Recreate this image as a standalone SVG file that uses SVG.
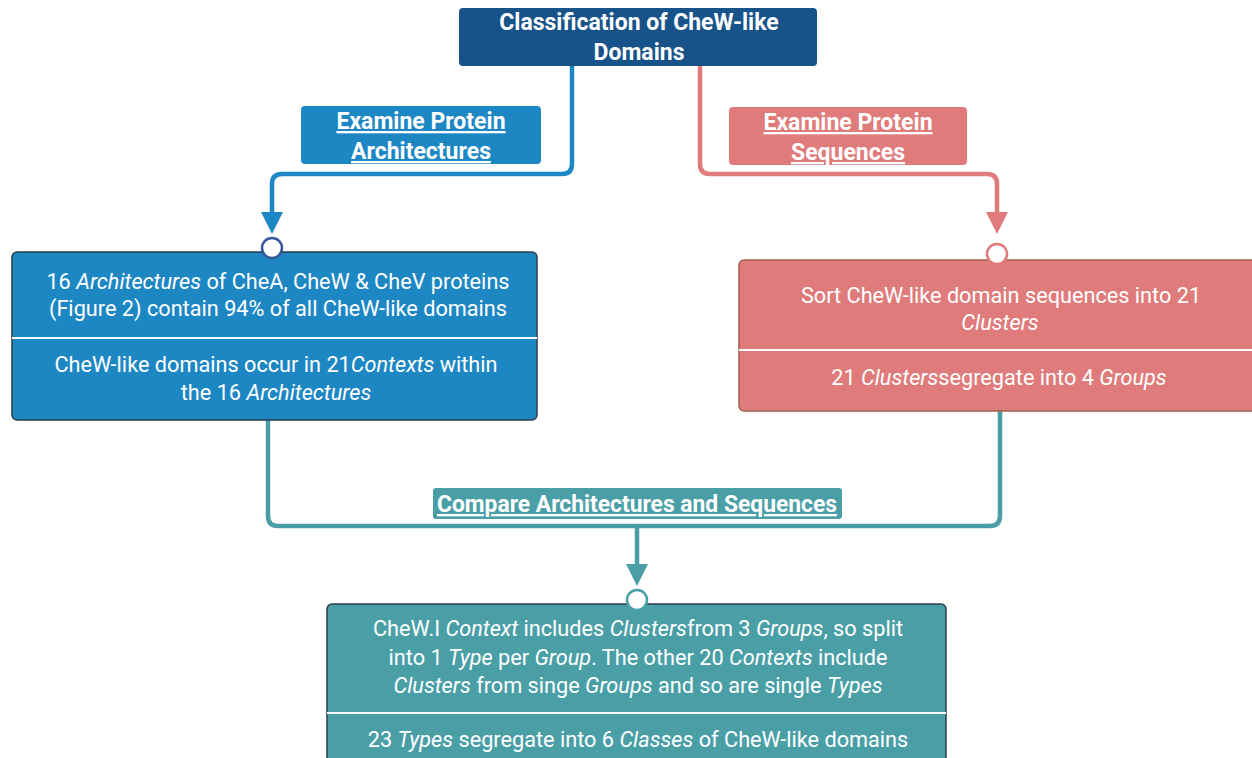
<svg xmlns="http://www.w3.org/2000/svg" width="1252" height="758" viewBox="0 0 1252 758">
<style>
.t{font-family:Roboto,"Liberation Sans",sans-serif;fill:#fff;text-anchor:middle}
.h{font-size:23px;font-weight:bold}
.b{font-size:21.7px}
.u{text-decoration:underline}
.i{font-style:italic}
.c{fill:none;stroke-width:4.5;stroke-linejoin:round}
</style>
<rect width="1252" height="758" fill="#fff"/>
<g id="connectors">
  <path class="c" stroke="#1d87c4" d="M572,66 V164 Q572,174 562,174 H282 Q272,174 272,184 V214"/>
  <polygon points="261,212 283,212 272,234" fill="#1d87c4"/>
  <path class="c" stroke="#df7b7b" d="M700,66 V164 Q700,174 710,174 H987 Q997,174 997,184 V214"/>
  <polygon points="986,212 1008,212 997,234" fill="#df7b7b"/>
  <path class="c" stroke="#4a9fa7" d="M268,420 V516 Q268,526 278,526 H990 Q1000,526 1000,516 V411"/>
  <path class="c" stroke="#4a9fa7" d="M637,526 V566"/>
  <polygon points="626,564 648,564 637,586" fill="#4a9fa7"/>
</g>
<g id="title">
  <rect x="459" y="8" width="358" height="58" rx="4" fill="#175289"/>
  <text class="t h" x="639" y="30">Classification of CheW-like</text>
  <text class="t h" x="639" y="60">Domains</text>
</g>
<g id="label-arch">
  <rect x="301" y="106" width="240" height="58" rx="4" fill="#1d87c4"/>
  <text class="t h u" x="421" y="129">Examine Protein</text>
  <text class="t h u" x="421" y="159">Architectures</text>
</g>
<g id="label-seq">
  <rect x="729" y="107" width="238" height="58" rx="4" fill="#df7b7b"/>
  <text class="t h u" x="848" y="130">Examine Protein</text>
  <text class="t h u" x="848" y="160">Sequences</text>
</g>
<g id="node-arch">
  <rect x="12" y="252" width="525" height="168" rx="5" fill="#1d87c4" stroke="#2b3b4b" stroke-width="1.5"/>
  <line x1="12" y1="338" x2="537" y2="338" stroke="#fff" stroke-width="2"/>
  <circle cx="272" cy="248" r="10" fill="#fff" stroke="#34589a" stroke-width="2.5"/>
  <text class="t b" x="278" y="289">16 <tspan class="i">Architectures</tspan> of CheA, CheW &amp; CheV proteins</text>
  <text class="t b" x="278" y="316">(Figure 2) contain 94% of all CheW-like domains</text>
  <text class="t b" x="276" y="372">CheW-like domains occur in 21<tspan class="i">Contexts</tspan> within</text>
  <text class="t b" x="276" y="400">the 16 <tspan class="i">Architectures</tspan></text>
</g>
<g id="node-seq">
  <rect x="739" y="260" width="520" height="151" rx="5" fill="#df7b7b" stroke="#a0604a" stroke-width="1.5"/>
  <line x1="739" y1="350" x2="1252" y2="350" stroke="#fff" stroke-width="2"/>
  <circle cx="997" cy="254" r="10" fill="#fff" stroke="#df7b7b" stroke-width="2.5"/>
  <text class="t b" x="1001" y="303">Sort CheW-like domain sequences into 21</text>
  <text class="t b i" x="1000" y="330">Clusters</text>
  <text class="t b" x="999" y="385">21 <tspan class="i">Clusters</tspan>segregate into 4 <tspan class="i">Groups</tspan></text>
</g>
<g id="label-compare">
  <rect x="433" y="488" width="409" height="31" rx="3" fill="#4a9fa7"/>
  <text class="t h u" x="637" y="512" textLength="400" lengthAdjust="spacingAndGlyphs">Compare Architectures and Sequences</text>
</g>
<g id="node-compare">
  <rect x="327" y="604" width="619" height="164" rx="5" fill="#4a9fa7" stroke="#2b3b4b" stroke-width="1.5"/>
  <line x1="327" y1="713" x2="946" y2="713" stroke="#fff" stroke-width="2"/>
  <circle cx="637" cy="600" r="10" fill="#fff" stroke="#4a9fa7" stroke-width="2.5"/>
  <text class="t b" x="638" y="636">CheW.I <tspan class="i">Context</tspan> includes <tspan class="i">Clusters</tspan>from 3 <tspan class="i">Groups</tspan>, so split</text>
  <text class="t b" x="638" y="665">into 1 <tspan class="i">Type</tspan> per <tspan class="i">Group</tspan>. The other 20 <tspan class="i">Contexts</tspan> include</text>
  <text class="t b" x="638" y="693"><tspan class="i">Clusters</tspan> from singe <tspan class="i">Groups</tspan> and so are single <tspan class="i">Types</tspan></text>
  <text class="t b" x="638" y="747">23 <tspan class="i">Types</tspan> segregate into 6 <tspan class="i">Classes</tspan> of CheW-like domains</text>
</g>
</svg>
